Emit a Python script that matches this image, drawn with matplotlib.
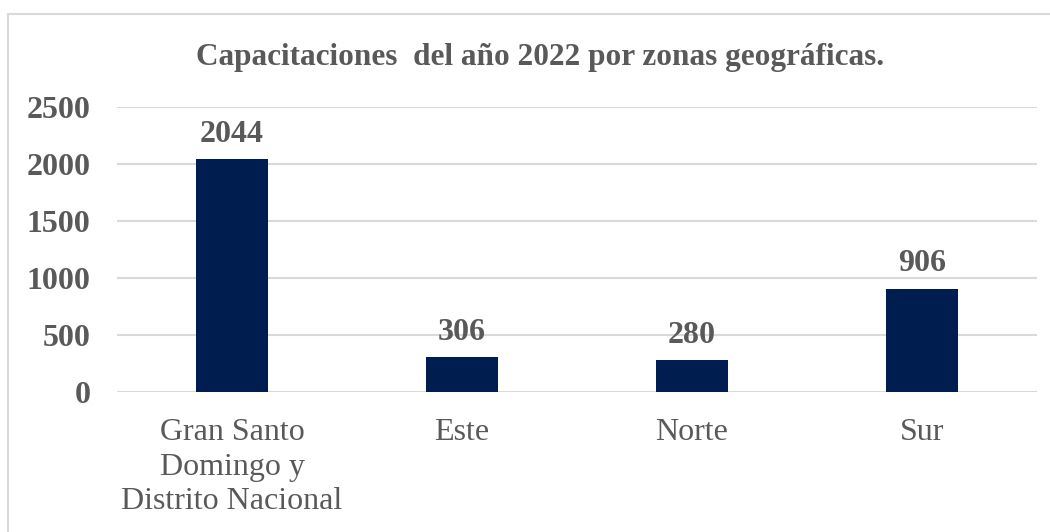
import matplotlib.pyplot as plt
from matplotlib.patches import Rectangle

zonas = ["Gran Santo\nDomingo y\nDistrito Nacional", "Este", "Norte", "Sur"]
capacitaciones = [2044, 306, 280, 906]
yticks = [0, 500, 1000, 1500, 2000, 2500]
titulo = "Capacitaciones  del año 2022 por zonas geográficas."

gris = "#595959"
azul = "#001d4f"

plt.rcParams['font.family'] = ['Liberation Serif', 'DejaVu Serif']

fig = plt.figure(figsize=(10.5, 5.32), dpi=100)
fig.patches.append(Rectangle((8/1050, -0.02), 1.0, 1 - 14/532 + 0.02,
                             transform=fig.transFigure, fill=False,
                             edgecolor="#d9d9d9", lw=1.5))

ax = fig.add_axes([117/1050, 1 - 392/532, 920/1050, 285/532])
x = range(len(zonas))
ax.bar(x, capacitaciones, width=0.31, color=azul, zorder=3)
for i, v in zip(x, capacitaciones):
    ax.text(i, v + 90, str(v), ha="center", va="bottom", fontsize=23,
            fontweight="bold", color=gris)

ax.set_xlim(-0.5, len(zonas) - 0.5)
ax.set_ylim(0, 2500)
ax.set_yticks(yticks)
ax.set_yticklabels([str(t) for t in yticks], fontsize=23, fontweight="bold", color=gris)
ax.set_xticks(list(x))
ax.set_xticklabels(zonas, fontsize=23, color=gris, linespacing=1.24)
ax.tick_params(length=0, axis="y", pad=19)
ax.tick_params(length=0, axis="x", pad=19)
ax.grid(axis="y", color="#d9d9d9", lw=1.5, zorder=0)
for s in ax.spines.values():
    s.set_visible(False)

fig.text(540/1050, 1 - 57/532, titulo, ha="center", va="center", fontsize=22.5,
         fontweight="bold", color=gris)

fig.savefig("out.png", dpi=100)
